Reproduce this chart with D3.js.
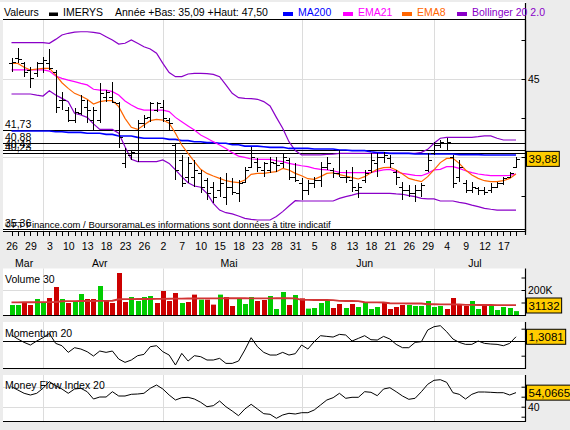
<!DOCTYPE html>
<html><head><meta charset="utf-8">
<script src="https://cdn.jsdelivr.net/npm/d3@7"></script>
<style>body{margin:0;background:#ececec;}svg{display:block;font-family:"Liberation Sans",Arial,sans-serif;}</style>
</head><body><svg id="c" width="570" height="430"></svg>
<script>
// ---------- DATA ----------
const dates = ["2007-03-26","2007-03-27","2007-03-28","2007-03-29","2007-03-30",
"2007-04-02","2007-04-03","2007-04-04","2007-04-05","2007-04-10","2007-04-11","2007-04-12","2007-04-13","2007-04-16","2007-04-17","2007-04-18","2007-04-19","2007-04-20","2007-04-23","2007-04-24","2007-04-25","2007-04-26","2007-04-27","2007-04-30",
"2007-05-02","2007-05-03","2007-05-04","2007-05-07","2007-05-08","2007-05-09","2007-05-10","2007-05-11","2007-05-14","2007-05-15","2007-05-16","2007-05-17","2007-05-18","2007-05-21","2007-05-22","2007-05-23","2007-05-24","2007-05-25","2007-05-28","2007-05-29","2007-05-30","2007-05-31",
"2007-06-01","2007-06-04","2007-06-05","2007-06-06","2007-06-07","2007-06-08","2007-06-11","2007-06-12","2007-06-13","2007-06-14","2007-06-15","2007-06-18","2007-06-19","2007-06-20","2007-06-21","2007-06-22","2007-06-25","2007-06-26","2007-06-27","2007-06-28","2007-06-29",
"2007-07-02","2007-07-03","2007-07-04","2007-07-05","2007-07-06","2007-07-09","2007-07-10","2007-07-11","2007-07-12","2007-07-13","2007-07-16","2007-07-17","2007-07-18","2007-07-19"];
const monthNames = ["Jan","Fév","Mar","Avr","Mai","Jun","Jul","Aoû","Sep","Oct","Nov","Déc"];

const open = [46.00,46.32,46.00,45.58,45.36,46.00,46.00,45.47,43.65,43.01,42.37,42.80,43.23,42.37,42.37,43.87,43.87,43.44,39.59,40.13,40.23,42.16,42.58,43.01,43.23,42.37,40.77,39.81,38.74,38.74,
38.95,38.52,38.10,37.88,37.46,38.10,37.67,38.42,39.38,39.70,39.17,39.17,39.59,39.59,39.81,38.74,38.31,37.88,38.31,38.52,39.38,39.17,38.95,38.74,38.52,37.88,38.52,39.17,39.59,
40.02,39.91,39.06,38.10,37.88,37.67,37.88,39.17,40.23,40.77,40.88,40.02,38.74,38.31,37.88,37.99,37.88,37.88,38.10,38.31,38.74,39.38];
const high = [46.32,46.97,46.11,45.79,46.11,46.43,46.90,45.58,44.19,43.23,43.12,43.97,43.65,43.23,44.72,44.29,44.83,43.55,40.55,40.45,42.37,42.69,43.55,43.55,43.65,42.48,40.88,40.13,40.02,39.81,
39.17,38.63,38.42,38.74,38.95,38.63,38.52,39.38,40.66,39.91,39.70,40.02,40.02,40.23,39.91,39.59,38.63,38.52,38.74,39.70,40.02,39.27,40.45,39.17,39.38,38.31,39.17,40.23,40.23,
40.34,40.13,39.17,38.42,38.20,38.20,38.31,40.23,40.98,41.09,41.20,40.13,39.81,38.52,38.42,38.10,38.10,38.31,38.42,38.74,39.06,40.02];
const low = [45.47,46.00,45.15,44.40,45.15,45.36,45.58,42.80,43.01,42.26,42.16,42.69,42.16,41.73,42.16,43.55,43.44,40.55,39.27,39.81,39.70,41.84,42.26,42.91,42.26,41.73,38.52,38.10,38.31,38.10,
37.67,37.24,37.03,37.46,36.92,37.56,37.14,38.31,39.27,39.06,38.74,38.95,39.06,39.27,38.52,38.42,37.24,37.56,37.99,38.10,39.17,38.63,38.74,38.31,37.78,37.35,38.31,38.95,38.74,
39.59,39.27,38.20,37.24,37.46,37.14,37.46,39.06,40.13,40.55,40.45,37.99,38.42,37.67,37.67,37.56,37.56,37.67,37.99,38.20,38.63,39.27];
const close = [46.11,46.26,45.47,45.04,46.00,46.22,45.68,43.23,43.65,42.37,42.91,43.65,43.01,43.01,44.08,44.19,43.55,41.30,40.23,40.34,42.16,42.48,43.44,43.44,42.48,42.16,39.17,38.31,39.59,39.17,
38.10,37.67,37.46,38.31,38.10,37.78,38.31,39.17,40.02,39.38,39.59,39.70,39.49,40.02,38.74,38.52,37.88,38.31,38.52,39.38,39.59,38.95,38.74,38.74,38.10,38.10,38.95,39.81,40.02,
40.13,39.59,38.74,37.88,37.67,37.88,38.20,39.81,40.77,40.98,40.98,38.31,39.38,37.88,38.10,37.88,37.78,38.10,38.31,38.63,38.95,39.88];

const ma200 = [41.67,41.67,41.67,41.67,41.67,41.67,41.67,41.62,41.62,41.58,41.58,41.58,41.52,41.52,41.52,41.45,41.45,41.35,41.35,41.35,41.26,
41.20,41.20,41.20,41.20,41.13,41.13,41.05,41.05,40.98,40.98,40.92,40.92,40.88,40.88,40.79,40.79,40.70,40.70,40.70,40.66,40.62,40.62,40.62,40.55,40.55,
40.55,40.55,40.51,40.51,40.51,40.51,40.45,40.45,40.41,40.41,40.41,40.34,40.28,40.28,40.23,40.23,40.23,40.23,40.19,40.19,40.19,40.19,40.19,40.19,40.19,
40.15,40.15,40.15,40.15,40.13,40.13,40.13,40.13,40.13,40.13];
const ema21 = [45.58,45.58,45.58,45.58,45.58,45.58,45.51,45.19,45.04,44.93,44.83,44.72,44.62,44.34,44.29,44.29,44.19,43.97,43.59,43.33,43.12,43.01,43.01,43.01,43.01,42.91,42.54,42.26,41.99,41.73,
41.41,41.20,40.98,40.77,40.55,40.28,40.06,39.98,39.87,39.85,39.85,39.85,39.76,39.70,39.59,39.51,39.44,39.38,39.27,39.21,39.17,39.12,39.02,39.00,39.00,39.00,39.00,39.00,39.10,
39.17,39.21,39.06,38.95,38.89,38.82,38.80,38.95,39.17,39.21,39.38,39.38,39.27,39.12,39.00,38.91,38.85,38.80,38.80,38.80,38.82,38.91];
const ema8 = [46.00,46.00,45.75,45.58,45.64,45.68,45.68,45.26,44.76,44.40,44.08,43.91,43.70,43.40,43.55,43.61,43.61,43.23,42.48,41.90,41.77,42.05,42.33,42.41,42.37,42.16,41.52,40.77,40.23,39.70,
39.21,38.95,38.78,38.63,38.48,38.40,38.36,38.52,38.89,38.95,38.95,39.02,39.06,39.27,39.17,38.95,38.80,38.61,38.57,38.74,38.95,38.99,38.87,38.78,38.68,38.59,38.74,38.99,39.21,
39.32,39.34,39.17,38.91,38.63,38.52,38.42,38.74,39.17,39.64,39.91,39.91,39.59,39.17,38.85,38.63,38.48,38.42,38.42,38.48,38.63,38.91];
const bollUpper = [47.33,47.33,47.33,47.33,47.33,47.33,47.29,47.54,47.82,47.93,48.01,48.03,48.03,47.99,47.93,47.71,47.50,47.24,47.29,47.50,47.29,47.07,46.92,46.65,46.00,45.41,45.15,45.15,45.32,45.36,
45.36,45.34,45.30,45.15,44.62,44.08,43.80,43.76,43.74,43.70,43.55,43.27,42.54,41.84,40.98,40.41,40.13,40.13,40.13,40.13,40.17,40.19,40.23,40.23,40.23,40.23,40.23,40.23,40.23,
40.23,40.23,40.23,40.23,40.23,40.23,40.30,40.49,40.88,41.20,41.26,41.26,41.26,41.26,41.26,41.30,41.35,41.35,41.20,41.09,41.09,41.09];
const bollLower = [44.04,44.04,44.04,44.04,43.97,43.91,44.25,43.97,43.76,43.55,42.80,42.69,42.54,42.12,41.77,41.77,41.77,41.52,40.66,39.85,39.70,39.70,39.70,39.70,39.81,39.59,39.17,38.74,38.35,38.14,
38.06,37.67,37.03,36.60,36.43,36.35,36.22,36.07,36.00,35.96,35.96,35.96,36.18,36.50,36.86,37.20,37.18,37.18,37.18,37.18,37.18,37.18,37.35,37.46,37.56,37.67,37.67,37.67,37.67,
37.67,37.67,37.63,37.61,37.52,37.46,37.35,37.31,37.31,37.18,37.18,37.18,37.09,37.03,36.92,36.82,36.71,36.65,36.60,36.60,36.60,36.60];

const levels = [41.73, 40.88, 40.42, 40.23, 35.36];
const yearLow = 35.09, yearHigh = 47.50;

const volume = [80000,80000,101000,80000,128000,101000,136000,224000,128000,96000,107000,168000,128000,128000,232000,120000,96000,336000,104000,144000,112000,144000,152000,96000,192000,112000,176000,96000,104000,163000,
123000,123000,83000,163000,144000,72000,131000,88000,144000,112000,120000,152000,48000,184000,80000,160000,
133000,51000,56000,96000,117000,56000,88000,56000,88000,64000,104000,48000,64000,104000,48000,64000,80000,80000,72000,72000,112000,64000,72000,48000,136000,88000,72000,112000,48000,80000,72000,40000,64000,56000,31132];
const volumeUp = [1,1,0,0,1,1,0,0,1,0,1,1,0,0,1,0,0,0,0,1,1,1,1,0,0,0,0,1,0,0,
1,0,0,1,0,0,1,1,1,0,0,1,1,1,0,1,
0,1,1,1,1,0,0,1,0,1,1,1,1,0,0,0,0,1,1,1,1,1,1,0,0,0,0,1,1,0,1,1,1,1,1];
const volumeMA30 = [101000,101000,102000,102000,102000,103000,103000,104000,
110000,111000,111000,112000,112000,112000,113000,113000,114000,
126000,127000,127000,128000,128000,128000,129000,129000,130000,
131000,131000,132000,132000,133000,133000,133000,133000,134000,134000,134000,134000,133000,133000,133000,133000,134000,134000,134000,133000,
121000,121000,120000,120000,120000,119000,
113000,112000,112000,111000,
102000,101000,101000,100000,
94000,93000,93000,92000,92000,92000,
86000,86000,85000,85000,85000,84000,
81000,81000,80000,80000,80000,79000,79000,79000,79000];

const momentum = [1.89,0.56,-0.56,-1.44,-0.11,1.00,2.44,-0.89,-1.67,-3.89,-2.33,-2.78,-3.67,-5.11,-3.44,-3.89,-3.44,-6.11,-7.22,-6.44,-5.00,-4.56,-2.00,-1.67,-3.67,-4.78,-8.11,-4.22,-6.78,-5.00,
-5.33,-6.44,-6.44,-5.89,-7.56,-7.56,-6.78,-3.11,1.00,-2.00,-3.89,-4.78,-4.78,-3.89,-4.78,-4.33,-1.44,-2.78,-0.33,1.67,1.44,1.22,2.11,1.89,-0.11,0.78,1.67,0.33,0.22,
1.44,0.56,-1.22,-2.33,-2.33,-0.56,-0.33,3.56,4.67,5.00,3.00,0.56,-0.56,-1.22,-1.22,-0.11,-0.89,-1.11,-1.22,-1.67,-0.89,1.3081];
const mfi = [60.0,56.7,53.4,51.7,53.4,58.4,65.0,61.0,57.7,53.4,57.7,58.4,55.0,47.7,49.7,49.7,55.0,50.7,50.7,52.4,52.7,53.4,58.4,61.7,57.7,51.7,46.7,49.0,49.4,47.7,
44.4,40.0,41.0,45.7,40.0,35.7,31.0,37.7,42.4,37.7,33.0,32.4,28.4,31.7,33.4,32.7,34.0,34.0,36.7,41.7,46.7,49.0,53.4,48.4,49.4,49.4,55.0,54.4,51.0,
57.7,59.0,55.0,50.7,47.4,48.4,55.0,62.4,66.4,67.0,64.4,54.0,52.4,47.7,52.4,54.7,54.7,54.4,54.0,54.0,51.7,54.0665];

const priceTicks = [47.5, 45, 42.5, 40, 37.5];
const priceGrid = [45, 40];
const priceLabels = [45];
const volTicks = [100000, 200000, 300000];
const volLabels = [200000];
const momTicks = [4, -5];
const mfiTicks = [30, 40, 50, 60];
const mfiGrid = [40, 60];
const mfiLabels = [40];

// ---------- CHART ----------
const svg = d3.select("#c");
const fr = d3.format(".2f");
const frc = v => String(v).replace(".", ",");
const R = 525.5, L = 3;
svg.append("rect").attr("width",570).attr("height",430).attr("fill","#ececec");
svg.append("rect").attr("x",0).attr("y",2).attr("width",526).attr("height",18).attr("fill","#fff");

const panels = {
  main:{top:20,bot:231.5},
  vol:{top:268.5,bot:315.5},
  mom:{top:322,bot:368.5},
  mfi:{top:375,bot:421.5}
};
Object.values(panels).forEach(p=>{
  svg.append("rect").attr("x",L).attr("y",p.top).attr("width",R-L).attr("height",p.bot-p.top).attr("fill","#fff");
});

const x = d3.scalePoint().domain(dates).range([11.5, 516]);
const X = i => x(dates[i]);
const yP = d3.scaleLinear().domain([35,48]).range([235,32.2]);
const yV = d3.scaleLinear().domain([0,300000]).range([315,277.5]);
const yM = d3.scaleLinear().domain([-5,4]).range([355.7,328.7]);
const yF = d3.scaleLinear().domain([30,60]).range([416.7,386.7]);

// vertical month gridlines
const parsed = dates.map(d=>new Date(d+"T00:00:00"));
const monthStarts = [];
parsed.forEach((d,i)=>{ if(i>0 && d.getMonth()!==parsed[i-1].getMonth()) monthStarts.push(i); });
Object.values(panels).forEach(p=>{
  svg.append("g").selectAll("line").data(monthStarts).join("line")
    .attr("x1",i=>Math.round(X(i))+0.5).attr("x2",i=>Math.round(X(i))+0.5)
    .attr("y1",p.top).attr("y2",p.bot).attr("stroke","#dcdcdc");
});
// horizontal grids
const hgrid = (vals, sc) => svg.append("g").selectAll("line").data(vals).join("line")
  .attr("x1",L).attr("x2",R).attr("y1",d=>Math.round(sc(d))+0.5).attr("y2",d=>Math.round(sc(d))+0.5).attr("stroke","#dcdcdc");
hgrid(priceGrid, yP); hgrid(volLabels, yV); hgrid(mfiGrid, yF);

// level lines
const gl = svg.append("g");
gl.selectAll("line").data(levels).join("line")
  .attr("x1",L).attr("x2",R).attr("y1",d=>Math.round(yP(d))+0.5).attr("y2",d=>Math.round(yP(d))+0.5)
  .attr("stroke","#000");
gl.selectAll("text").data(levels).join("text")
  .attr("x",5).attr("y",d=>yP(d)-2).attr("font-size","10.5px").text(d=>fr(d).replace(".",","));

// copyright
svg.append("text").attr("x",5).attr("y",228).attr("font-size","9.5px")
  .text("©FT Finance.com / BoursoramaLes informations sont données à titre indicatif");

// indicator lines
const lineOf = (arr, sc) => d3.line().x((d,i)=>X(i)).y(d=>sc(d))(arr);
const drawLine = (arr, sc, col, w) => svg.append("path").attr("d",lineOf(arr,sc)).attr("fill","none").attr("stroke",col).attr("stroke-width",w);
drawLine(bollUpper, yP, "#8a00c8", 1.2);
drawLine(bollLower, yP, "#8a00c8", 1.2);
drawLine(ma200, yP, "#0000ff", 1.6);
drawLine(ema21, yP, "#ff00ff", 1.2);
drawLine(ema8, yP, "#ff6600", 1.2);

// OHLC bars
const gb = svg.append("g").attr("stroke","#000").attr("shape-rendering","crispEdges");
const idx = d3.range(dates.length);
gb.selectAll(".hl").data(idx).join("line").attr("x1",i=>Math.round(X(i))+0.5).attr("x2",i=>Math.round(X(i))+0.5)
  .attr("y1",i=>yP(high[i])).attr("y2",i=>yP(low[i])).attr("stroke-width",1.4);
gb.selectAll(".o").data(idx).join("line").attr("x1",i=>Math.round(X(i))-3).attr("x2",i=>Math.round(X(i))+0.5)
  .attr("y1",i=>Math.round(yP(open[i]))+0.5).attr("y2",i=>Math.round(yP(open[i]))+0.5);
gb.selectAll(".c").data(idx).join("line").attr("x1",i=>Math.round(X(i))+0.5).attr("x2",i=>Math.round(X(i))+4)
  .attr("y1",i=>Math.round(yP(close[i]))+0.5).attr("y2",i=>Math.round(yP(close[i]))+0.5);

// volume bars
svg.append("g").selectAll("rect").data(idx).join("rect")
  .attr("x",i=>Math.round(X(i))-2).attr("width",5)
  .attr("y",i=>yV(volume[i])).attr("height",i=>yV(0)-yV(volume[i]))
  .attr("fill",i=>volumeUp[i]?"#00cc00":"#cc0000");
drawLine(volumeMA30, yV, "#d23434", 1.8);

// momentum
svg.append("line").attr("x1",L).attr("x2",R).attr("y1",Math.round(yM(0))+0.5).attr("y2",Math.round(yM(0))+0.5).attr("stroke","#000");
drawLine(momentum, yM, "#000", 1);
// mfi
drawLine(mfi, yF, "#000", 1);

// panel titles
const title = (t,y) => svg.append("text").attr("x",5).attr("y",y).attr("font-size","10.5px").text(t);
title("Volume 30",283); title("Momentum 20",336.5); title("Money Flow Index 20",388.5);

// borders
Object.values(panels).forEach(p=>{
  svg.append("line").attr("x1",L).attr("x2",R+0.5).attr("y1",p.bot).attr("y2",p.bot).attr("stroke","#000").attr("stroke-width",1.2);
  svg.append("line").attr("x1",R).attr("x2",R).attr("y1",p.top).attr("y2",p.bot).attr("stroke","#000").attr("stroke-width",1.2);
});
svg.append("line").attr("x1",L).attr("x2",R).attr("y1",19.5).attr("y2",19.5).attr("stroke","#000").attr("stroke-width",1.2);
svg.append("line").attr("x1",R).attr("x2",R).attr("y1",3).attr("y2",235).attr("stroke","#000").attr("stroke-width",1.2);

// right axes (inside ticks)
const inTicks = (sc, vals) => {
  const g = svg.append("g").attr("transform",`translate(${R},0)`).call(d3.axisLeft(sc).tickValues(vals).tickSize(4).tickFormat(""));
  g.select(".domain").remove();
};
inTicks(yP, priceTicks); inTicks(yV, volTicks); inTicks(yM, momTicks); inTicks(yF, mfiTicks);
const outLabels = (sc, vals, fmt) => {
  const g = svg.append("g").attr("transform",`translate(${R},0)`).call(d3.axisRight(sc).tickValues(vals).tickSize(0).tickPadding(2.5).tickFormat(fmt));
  g.select(".domain").remove();
  g.selectAll("text").attr("font-size","10.5px").attr("font-family","Liberation Sans, Arial, sans-serif").attr("fill","#000");
};
outLabels(yP, priceLabels, d=>String(d));
outLabels(yV, volLabels, d=>(d/1000)+"K");
outLabels(yF, mfiLabels, d=>String(d));

// x axis
const gx = svg.append("g").attr("transform","translate(0,231.5)")
  .call(d3.axisBottom(x).tickValues(dates).tickSize(4).tickFormat(""));
gx.select(".domain").remove();
gx.selectAll("line").attr("shape-rendering","crispEdges");
const labelDates = dates.filter((d,i)=>i%3===0);
const gx2 = svg.append("g").attr("transform","translate(0,231.5)")
  .call(d3.axisBottom(x).tickValues(labelDates).tickSize(0).tickPadding(11).tickFormat(d=>String(+d.slice(8))));
gx2.select(".domain").remove();
gx2.selectAll("text").attr("font-size","10.5px").attr("font-family","Liberation Sans, Arial, sans-serif").attr("fill","#000");
// month labels
const months = d3.groups(idx, i=>parsed[i].getMonth());
svg.append("g").selectAll("text").data(months).join("text")
  .attr("x",([m,is])=>(X(is[0])+X(is[is.length-1]))/2).attr("y",267).attr("text-anchor","middle")
  .attr("font-size","10.5px").text(([m])=>monthNames[m]);

// header
const hdr = svg.append("g").attr("font-size","10.5px");
hdr.append("text").attr("x",4).attr("y",16).text("Valeurs");
hdr.append("rect").attr("x",49).attr("y",12.5).attr("width",9).attr("height",3.5).attr("fill","#000");
hdr.append("text").attr("x",63).attr("y",16).text("IMERYS");
hdr.append("text").attr("x",115).attr("y",16).text(`Année +Bas: ${frc(yearLow.toFixed(2))} +Haut: ${frc(yearHigh.toFixed(2))}`);
const legend = [["MA200","#0000ff",283],["EMA21","#ff00ff",343],["EMA8","#ff6600",402],["Bollinger 20 2.0","#8a00c8",457]];
legend.forEach(([n,c,lx])=>{
  hdr.append("rect").attr("x",lx).attr("y",12).attr("width",10).attr("height",4).attr("fill",c);
  hdr.append("text").attr("x",lx+15).attr("y",16).attr("fill",c).text(n);
});

// value boxes
const box = (yc, txt) => {
  const g = svg.append("g");
  const r = g.append("rect").attr("x",526.5).attr("y",yc-7.5).attr("height",15).attr("fill","#ffcc00").attr("stroke","#000");
  const t = g.append("text").attr("x",528.5).attr("y",yc+4).attr("font-size","11.5px").text(txt);
  r.attr("width", t.node().getComputedTextLength()+4);
};
const last = dates.length-1;
box(yP(close[last]), frc(close[last].toFixed(2)));
box(Math.min(yV(volume[last]), panels.vol.bot-10), String(volume[last]));
box(yM(momentum[last]), frc(momentum[last].toFixed(4)));
box(yF(mfi[last]), frc(mfi[last].toFixed(4)));
</script></body></html>
